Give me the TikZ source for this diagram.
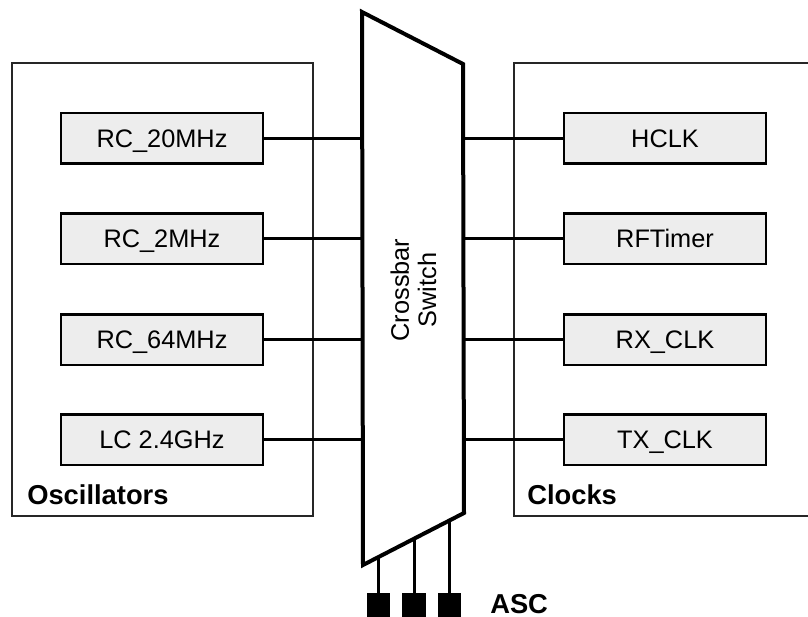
\documentclass[tikz,border=0pt]{standalone}
\usepackage{fontspec}
\setmainfont{Liberation Sans}
\usetikzlibrary{calc}
\begin{document}
\begin{tikzpicture}[x=0.75pt,y=-0.75pt,
  blk/.style={draw=black,line width=2.2pt,fill=black!7,minimum width=151.5pt,minimum height=38.2pt,inner sep=0pt,text height=13.6pt,text depth=0pt,font=\fontsize{19}{22}\selectfont},
  grp/.style={draw=black!85,line width=1.5pt},
  wire/.style={draw=black,line width=2.25pt},
  lbl/.style={font=\fontsize{20.5}{24}\selectfont\bfseries,anchor=base west,inner sep=0pt},
  pin/.style={fill=black,minimum size=17.5pt,inner sep=0pt}]
\useasboundingbox (0,0) rectangle (808,617);
% group boxes
\draw[grp] (12,63) rectangle (313,516);
\draw[grp] (820,63) -- (514,63) -- (514,516) -- (820,516);
\node[lbl] (osc) at (27,504) {Oscillators};
\node[lbl] (clk) at (527,504) {Clocks};
% crossbar
\coordinate (tl) at (362,12);
\coordinate (tr) at (463,64);
\coordinate (br) at (464,513);
\coordinate (bl) at (363,565);
\draw[line width=3pt,line join=miter] (tl) -- (tr) -- (br) -- (bl) -- cycle;
\node[rotate=90,align=center,font=\fontsize{19}{20.5}\selectfont] (xbar) at (413.5,290) {Crossbar\\Switch};
% oscillators
\node[blk] (o1) at (162,138.5) {RC\_20MHz};
\node[blk] (o2) at (162,238.5) {RC\_2MHz};
\node[blk] (o3) at (162,339.5) {RC\_64MHz};
\node[blk] (o4) at (162,439.5) {LC 2.4GHz};
% clocks
\node[blk] (c1) at (665,138.5) {HCLK};
\node[blk] (c2) at (665,238.5) {RFTimer};
\node[blk] (c3) at (665,339.5) {RX\_CLK};
\node[blk] (c4) at (665,439.5) {TX\_CLK};
% wires
\foreach \i in {1,...,4}{
  \draw[wire] (o\i.east) -- (o\i.east -| tl);
  \draw[wire] (c\i.west) -- (c\i.west -| tr);
}
% ASC pins
\node[pin] (p1) at (378.5,605) {};
\node[pin] (p2) at (414,605) {};
\node[pin] (p3) at (449.5,605) {};
\coordinate (q1) at ($(bl)!0.157!(br)$);
\coordinate (q2) at ($(bl)!0.5!(br)$);
\coordinate (q3) at ($(bl)!0.833!(br)$);
\foreach \i in {1,2,3}{
  \draw[wire] (p\i.north) -- (p\i.north |- q\i);
}
\node[lbl] (asc) at (490,613) {ASC};
\end{tikzpicture}
\end{document}
